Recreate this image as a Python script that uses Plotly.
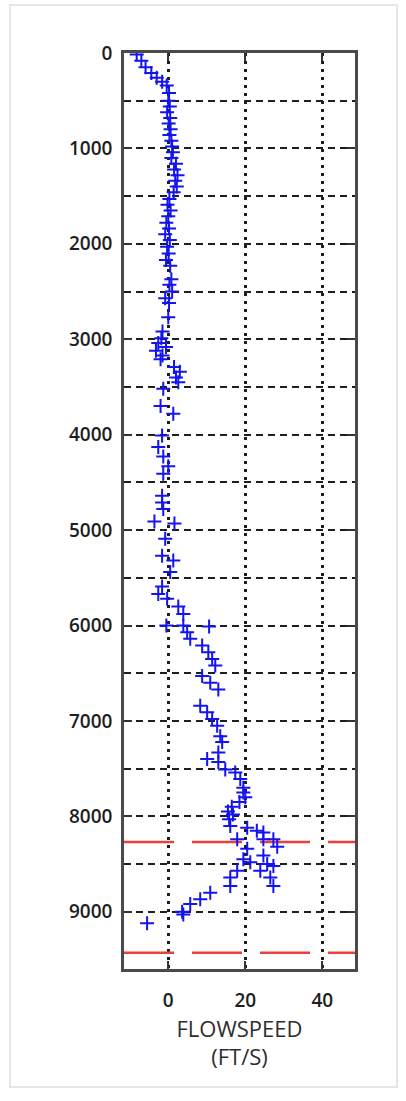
import plotly.graph_objects as go

# Flow-speed log: depth (ft) and measured flow speed (ft/s)
depth_ft = [
    15, 80, 150, 210, 260, 300, 340,
    420, 500, 560, 620, 680, 740, 800, 860, 920, 980,
    1040, 1100, 1160, 1220, 1280, 1340, 1400, 1460,
    1530, 1590, 1650, 1710, 1780, 1840, 1900, 1960, 2030, 2100, 2170, 2230,
    2370, 2430, 2500, 2570, 2620, 2770, 2920, 2990,
    3040, 3080, 3120, 3170, 3210,
    3290, 3340, 3400, 3450, 3520, 3700, 3780,
    4010, 4130, 4230, 4330, 4410, 4640, 4710, 4780, 4910, 4930,
    5090, 5270, 5320, 5440, 5590, 5670, 5720, 5800, 5880, 6000,
    6000, 6010, 6070, 6140, 6210, 6280, 6350, 6420, 6530, 6600, 6670,
    6840, 6910, 6980, 7050, 7160, 7220, 7330, 7400, 7430,
    7510, 7540, 7610, 7700, 7750, 7800, 7850, 7900, 7950, 7980, 8030,
    8100, 8120, 8150, 8170, 8240, 8240, 8240, 8320, 8340, 8410,
    8450, 8480, 8500, 8520, 8570, 8570, 8640, 8640, 8730, 8730,
    8800, 8870, 8920, 9000, 9030, 9120,
]
speed_fps = [
    -8.2, -7.0, -5.9, -4.4, -3.0, -1.6, -0.4,
    0.2, 0.0, 0.4, -0.3, 0.5, 0.1, 0.6, 0.3, 0.8, 1.0,
    1.2, 0.8, 2.0, 1.5, 2.4, 1.8, 2.2, 1.4,
    0.3, -0.2, 0.6, 0.0, -0.5, 0.2, -0.8, 0.4, -0.3, 0.1, -0.6, 0.5,
    0.8, 0.3, 1.0, -0.8, 0.2, 0.0, -1.5, -1.8,
    -2.6, -0.6, -3.2, -1.5, -2.0,
    1.5, 3.0, 2.0, 2.6, -1.3, -2.0, 1.3,
    -1.6, -2.6, -1.3, 0.0, -1.3, -1.6, -1.6, -1.3, -3.6, 1.6,
    -0.8, -1.6, 1.3, 0.5, -1.6, -2.6, -0.3, 2.6, 3.9, -0.5,
    3.9, 10.6, 4.9, 5.7, 8.8, 10.4, 11.4, 12.2, 8.8, 10.9, 13.0,
    8.3, 10.1, 11.4, 12.7, 13.5, 14.0, 13.0, 10.1, 13.0,
    14.8, 17.4, 18.7, 19.5, 19.5, 20.0, 18.5, 16.5, 15.5, 16.8, 15.8,
    16.1, 20.5, 23.0, 24.7, 17.9, 24.7, 27.3, 28.3, 20.5, 24.7,
    19.5, 21.3, 25.7, 27.3, 17.9, 23.9, 16.1, 26.5, 16.1, 27.3,
    10.9, 8.3, 5.7, 3.6, 3.9, -5.5,
]

# Zone boundaries marked with red dashed lines
zone_depths_ft = [8270, 9430]

x_range = [-11.5, 48.5]
x_ticks = [0, 20, 40]
y_ticks = [0, 1000, 2000, 3000, 4000, 5000, 6000, 7000, 8000, 9000]
y_minor = [500, 1500, 2500, 3500, 4500, 5500, 6500, 7500, 8500]

fig = go.Figure()

for d in zone_depths_ft:
    fig.add_trace(go.Scatter(
        x=x_range, y=[d, d], mode="lines",
        line=dict(color="#e8403a", width=2.5, dash="50px,18px"),
        showlegend=False, hoverinfo="skip",
    ))

fig.add_trace(go.Scatter(
    x=speed_fps, y=depth_ft, mode="markers",
    marker=dict(symbol="cross-thin", size=10,
                line=dict(color="#1414f0", width=2)),
    showlegend=False, hoverinfo="x+y",
))

# faint frame around the whole page
fig.add_shape(type="rect", xref="paper", yref="paper",
              x0=-0.4935, x1=1.1818, y0=-0.1288, y1=1.0524,
              line=dict(color="#e6e6e6", width=2), fillcolor="rgba(0,0,0,0)",
              layer="below")

label_font = dict(family="Open Sans", size=19, color="#1e1e1e", weight=600)
title_font = dict(family="Open Sans", size=22, color="#2e2e2e", weight=400)

fig.update_layout(
    width=406, height=1101,
    margin=dict(l=124, r=51, t=53, b=132),
    paper_bgcolor="white", plot_bgcolor="white",
    font=dict(family="Open Sans", size=19, color="#1e1e1e"),
    xaxis=dict(
        range=x_range, tickvals=x_ticks, ticks="inside", ticklen=8,
        tickwidth=2, tickcolor="#333", mirror="ticks", showline=True,
        linecolor="#4a4a4a", linewidth=2.5, showgrid=True, gridcolor="#1e1e1e",
        gridwidth=2.5, griddash="3px,5px", zeroline=False,
        tickfont=label_font, ticklabelstandoff=12,
        title=dict(text="FLOWSPEED<br>(FT/S)", standoff=7, font=title_font),
    ),
    yaxis=dict(
        range=[9600, 0], tickvals=y_ticks, ticks="inside", ticklen=8,
        tickwidth=2, tickcolor="#333", mirror="ticks", showline=True,
        linecolor="#4a4a4a", linewidth=2.5, showgrid=True, gridcolor="#1e1e1e",
        gridwidth=2, griddash="7px,5px", zeroline=False,
        tickfont=label_font, ticklabelstandoff=5,
        minor=dict(tickvals=y_minor, showgrid=True, gridcolor="#1e1e1e",
                   gridwidth=2, griddash="7px,5px", ticks=""),
    ),
)

fig.write_html("out.html")
